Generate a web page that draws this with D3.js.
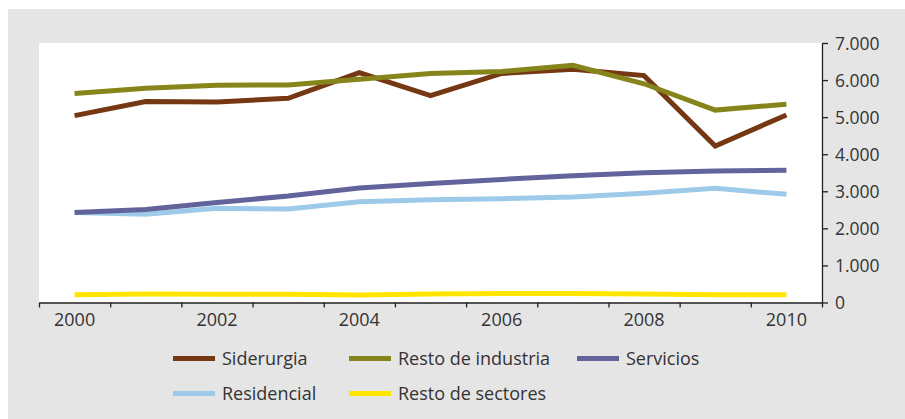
<!DOCTYPE html>
<meta charset="utf-8">
<style>
    body { margin: 0; background: #fff; font-family: "Open Sans", sans-serif; }
    .axis text { font-family: "Open Sans", sans-serif; fill: #333; }
    .axis path, .axis line { stroke: #222; stroke-width: 1.3; }
    .legend text { font-size: 18px; fill: #333; }
</style>
<body>
<script src="https://cdn.jsdelivr.net/npm/d3@7"></script>
<script>

var years = [2000, 2001, 2002, 2003, 2004, 2005, 2006, 2007, 2008, 2009, 2010];
var yearLabels = [2000, 2002, 2004, 2006, 2008, 2010];
var yTicks = [0, 1000, 2000, 3000, 4000, 5000, 6000, 7000];

var seriesNames = ['Siderurgia', 'Resto de industria', 'Servicios', 'Residencial', 'Resto de sectores'];
var seriesColors = ['#753812', '#86851b', '#63639c', '#9dcae9', '#ffe500'];

var siderurgia = [5040, 5420, 5410, 5510, 6200, 5580, 6180, 6290, 6120, 4220, 5060];
var restoIndustria = [5640, 5780, 5860, 5870, 6020, 6180, 6230, 6400, 5900, 5190, 5350];
var servicios = [2430, 2510, 2700, 2870, 3090, 3210, 3320, 3420, 3500, 3545, 3570];
var residencial = [2430, 2380, 2540, 2520, 2720, 2770, 2800, 2845, 2945, 3080, 2920];
var restoSectores = [210, 230, 220, 220, 200, 230, 240, 240, 230, 210, 210];

var allSeries = [siderurgia, restoIndustria, servicios, residencial, restoSectores];

var width = 905, height = 419;

var svg = d3.select('body').append('svg')
    .attr('width', width)
    .attr('height', height);

// gray panel
svg.append('rect')
    .attr('x', 8).attr('y', 9)
    .attr('width', width - 8).attr('height', height - 9)
    .style('fill', '#e5e5e5');

// white plot area
svg.append('rect')
    .attr('x', 39).attr('y', 43)
    .attr('width', 783).attr('height', 259.5)
    .style('fill', '#fff');

var x = d3.scaleBand()
    .domain(years)
    .range([39, 822])
    .padding(0);

var xEdge = d3.scaleLinear()
    .domain([0, years.length])
    .range([39, 822]);

var y = d3.scaleLinear()
    .domain([0, 7000])
    .range([302.5, 43]);

var fmt = function(d) { return d3.format(',')(d).replace(/,/g, '.'); };

// y axis on the right
svg.append('g')
    .attr('class', 'axis')
    .attr('transform', 'translate(822,0)')
    .call(d3.axisRight(y).tickValues(yTicks).tickFormat(fmt).tickSize(6).tickSizeOuter(0).tickPadding(7))
    .selectAll('text')
    .style('font-size', '17.5px')
    .attr('dy', '0.36em');

// x axis tick marks on band edges
svg.append('g')
    .attr('class', 'axis')
    .attr('transform', 'translate(0,302.5)')
    .call(d3.axisBottom(xEdge).tickValues(d3.range(years.length + 1)).tickFormat('').tickSize(5).tickSizeOuter(0));

// x labels at band centres
var xLab = svg.append('g')
    .attr('class', 'axis')
    .attr('transform', 'translate(0,302.5)')
    .call(d3.axisBottom(x).tickValues(yearLabels).tickSize(0).tickPadding(11));
xLab.select('.domain').remove();
xLab.selectAll('text').style('font-size', '18px');

var line = d3.line()
    .x(function(d, i) { return x(years[i]) + x.bandwidth() / 2; })
    .y(function(d) { return y(d); });

// draw back to front like the original
var order = [4, 3, 2, 0, 1];
order.forEach(function(k) {
    svg.append('path')
        .datum(allSeries[k])
        .attr('d', line)
        .style('fill', 'none')
        .style('stroke', seriesColors[k])
        .style('stroke-width', 5)
        .style('stroke-linejoin', 'miter');
});

// legend
var legendPos = [
    {x: 173, y: 358.5}, {x: 349, y: 358.5}, {x: 577, y: 358.5},
    {x: 173, y: 393.5}, {x: 349, y: 393.5}
];

var legend = svg.append('g').attr('class', 'legend');
seriesNames.forEach(function(name, i) {
    var g = legend.append('g')
        .attr('transform', 'translate(' + legendPos[i].x + ',' + legendPos[i].y + ')');
    g.append('line')
        .attr('x1', 0).attr('x2', 42)
        .attr('y1', 0).attr('y2', 0)
        .style('stroke', seriesColors[i])
        .style('stroke-width', 5);
    g.append('text')
        .attr('x', 49)
        .attr('dy', '0.35em')
        .text(name);
});

</script>
</body>
